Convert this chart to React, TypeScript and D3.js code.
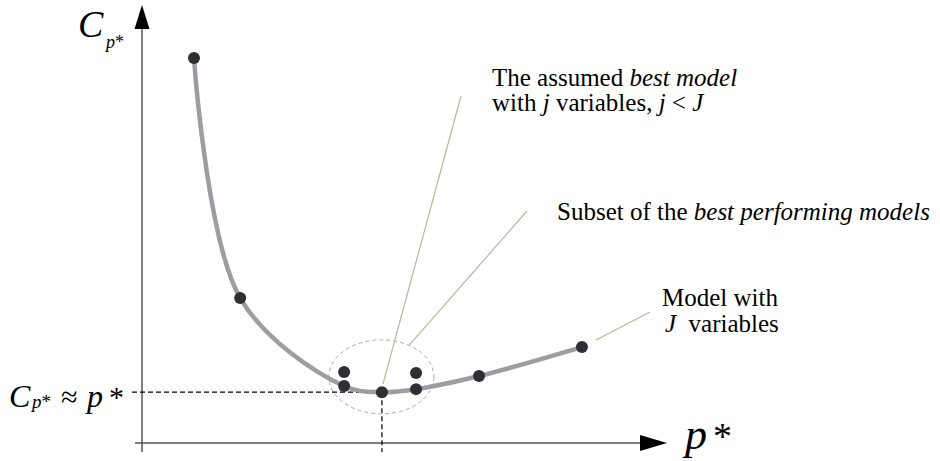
import React from "react";
import * as d3 from "d3";

// Cp* for the sequence of candidate models lying on the trade-off curve
const modelSize = [9.9, 18.7, 38.5, 45.7, 52.2, 64.2, 83.8];
const cpValue = [87.9, 33.1, 13.0, 11.6, 12.3, 15.3, 21.9];
// Further well-performing models that sit slightly above the curve
const extraSize = [38.5, 52.2];
const extraCp = [16.2, 16.0];
// index of the assumed best model and of the full model
const bestIdx = 3;
const fullIdx = 6;
// ring around the best performing models (data units)
const ringCenter = [45.6, 15.1];
const ringRadii = [10.0, 8.45];

const W = 940;
const H = 461;
const serif = "Liberation Serif, Times New Roman, serif";

export default function App() {
  const x = d3.scaleLinear().domain([0, 100]).range([142, 667]);
  const y = d3.scaleLinear().domain([0, 100]).range([443, 5]);

  const pts = modelSize.map((m, i) => [m, cpValue[i]] as [number, number]);
  const line = d3
    .line<[number, number]>()
    .x((d) => x(d[0]))
    .y((d) => y(d[1]))
    .curve(d3.curveCatmullRom.alpha(0.5));

  const bx = x(modelSize[bestIdx]);
  const by = y(cpValue[bestIdx]);
  const cx = x(ringCenter[0]);
  const cy = y(ringCenter[1]);
  const rx = x(ringRadii[0]) - x(0);
  const ry = y(0) - y(ringRadii[1]);

  // point on the ring in the direction of a label anchor
  const ringEdge = (tx: number, ty: number) => {
    const a = Math.atan2((ty - cy) / ry, (tx - cx) / rx);
    return [cx + rx * Math.cos(a), cy + ry * Math.sin(a)];
  };
  const subsetEnd = ringEdge(527, 211);

  const fx = x(modelSize[fullIdx]);
  const fy = y(cpValue[fullIdx]);

  const axisColor = "#555";
  const leader = "#b8b89c";
  const txt = { fontFamily: serif, whiteSpace: "pre" as const };

  return (
    <svg
      width={W}
      height={H}
      style={{ position: "absolute", left: 0, top: 0, background: "#fff", fontFamily: serif }}
    >
      {/* axes with arrow heads */}
      <line x1={x(0)} y1={452} x2={x(0)} y2={20} stroke={axisColor} strokeWidth={1.5} />
      <path d={`M${x(0)},${y(100)} L${x(0) - 7.5},${29} L${x(0) + 7.5},${29} Z`} fill="#000" />
      <line x1={135} y1={y(0)} x2={650} y2={y(0)} stroke={axisColor} strokeWidth={1.5} />
      <path d={`M${x(100)},${y(0)} L${640},${y(0) - 8} L${640},${y(0) + 8} Z`} fill="#000" />

      {/* reference lines to the minimum */}
      <line x1={132} y1={by} x2={bx} y2={by} stroke="#000" strokeWidth={1.2} strokeDasharray="5,3" />
      <line x1={bx} y1={by} x2={bx} y2={452} stroke="#000" strokeWidth={1.2} strokeDasharray="5,3" />

      {/* dashed ring around the best subset */}
      <ellipse cx={cx} cy={cy} rx={rx} ry={ry} fill="none" stroke="#a8a8b4" strokeWidth={1} strokeDasharray="4,3" />

      {/* leader lines */}
      <line x1={461} y1={96} x2={bx + 1} y2={by - 8} stroke={leader} strokeWidth={1.2} />
      <line x1={527} y1={211} x2={subsetEnd[0]} y2={subsetEnd[1]} stroke={leader} strokeWidth={1.2} />
      <line x1={650} y1={312} x2={fx + 14} y2={fy - 7} stroke={leader} strokeWidth={1.2} />

      {/* Cp* curve */}
      <path d={line(pts) || ""} fill="none" stroke="#9c9ca2" strokeWidth={4.5} strokeLinecap="round" />

      {/* model points */}
      {pts.map((d, i) => (
        <circle key={`p${i}`} cx={x(d[0])} cy={y(d[1])} r={6} fill="#2e2e34" />
      ))}
      {extraSize.map((m, i) => (
        <circle key={`e${i}`} cx={x(m)} cy={y(extraCp[i])} r={6} fill="#2e2e34" />
      ))}

      {/* axis titles */}
      <text x={78} y={37} fontSize={38} fontStyle="italic" fill="#000" style={txt}>C</text>
      <text x={106} y={48} fontSize={18} fill="#000" style={txt}>
        <tspan fontStyle="italic">p</tspan>
        <tspan>*</tspan>
      </text>

      <text x={685} y={449} fontSize={44} fontStyle="italic" fill="#000" style={txt}>p</text>
      <text x={713} y={449} fontSize={38} fill="#000" style={txt}>*</text>

      <text x={9} y={407} fontSize={32} fontStyle="italic" fill="#000" style={txt}>C</text>
      <text x={32} y={408} fontSize={19} fill="#000" style={txt}>
        <tspan fontStyle="italic">p</tspan>
        <tspan>*</tspan>
      </text>
      <text x={61} y={407} fontSize={30} fill="#000" style={txt}>≈</text>
      <text x={87} y={407} fontSize={32} fontStyle="italic" fill="#000" style={txt}>p</text>
      <text x={109} y={407} fontSize={30} fill="#000" style={txt}>*</text>

      {/* annotations */}
      <text x={492} y={86} fontSize={25} fill="#000" style={txt}>
        <tspan>The assumed </tspan>
        <tspan fontStyle="italic">best model</tspan>
      </text>
      <text x={492} y={111} fontSize={25} fill="#000" style={txt}>
        <tspan>with </tspan>
        <tspan fontStyle="italic">j</tspan>
        <tspan> variables, </tspan>
        <tspan fontStyle="italic">j</tspan>
        <tspan> &lt; </tspan>
        <tspan fontStyle="italic">J</tspan>
      </text>

      <text x={557} y={220} fontSize={25} fill="#000" style={txt}>
        <tspan>Subset of the </tspan>
        <tspan fontStyle="italic">best performing models</tspan>
      </text>

      <text x={662} y={306} fontSize={25} fill="#000" style={txt}>Model with</text>
      <text x={665} y={332} fontSize={25} fill="#000" style={txt}>
        <tspan fontStyle="italic">J</tspan>
        <tspan>  variables</tspan>
      </text>
    </svg>
  );
}
